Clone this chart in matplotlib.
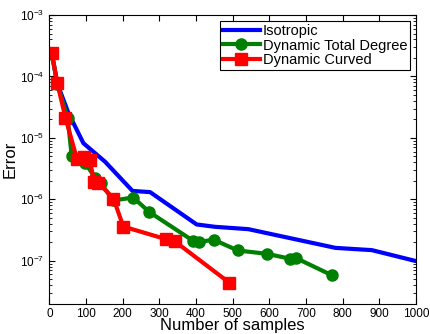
import matplotlib
matplotlib.use("Agg")
import matplotlib.pyplot as plt

plt.rcParams['font.family'] = ['Liberation Sans', 'DejaVu Sans']
plt.rcParams['mathtext.fontset'] = 'custom'
plt.rcParams['mathtext.rm'] = 'Liberation Sans'

# Isotropic
iso_n = [7, 22, 52, 93, 152, 227, 275, 402, 452, 543, 781, 880, 1000]
iso_err = [2.3e-4, 7.6e-5, 2.55e-5, 8.2e-6, 4.1e-6, 1.37e-6, 1.31e-6, 3.9e-7, 3.57e-7, 3.27e-7, 1.62e-7, 1.49e-7, 9.9e-8]

# Dynamic Total Degree
dtd_n = [7, 22, 50, 61, 97, 125, 140, 175, 229, 273, 393, 409, 449, 514, 593, 657, 674, 770]
dtd_err = [2.3e-4, 7.5e-5, 2.1e-5, 5.15e-6, 3.95e-6, 2.26e-6, 1.83e-6, 9.6e-7, 1.07e-6, 6.2e-7,
           2.1e-7, 2.03e-7, 2.2e-7, 1.47e-7, 1.3e-7, 1.08e-7, 1.1e-7, 5.85e-8]

# Dynamic Curved
dc_n = [7, 22, 44, 75, 94, 110, 123, 134, 175, 202, 318, 343, 491]
dc_err = [2.38e-4, 7.7e-5, 2.14e-5, 4.6e-6, 4.8e-6, 4.3e-6, 1.93e-6, 1.87e-6, 1.03e-6, 3.6e-7,
          2.25e-7, 2.06e-7, 4.4e-8]

fig = plt.figure(figsize=(4.3, 3.34), dpi=100)
ax = fig.add_axes([0.1147, 0.0907, 0.8523, 0.8643])

ax.semilogy(iso_n, iso_err, color='#0000ff', lw=3, label='Isotropic')
ax.semilogy(dtd_n, dtd_err, color='#008000', lw=3, marker='o', ms=8, label='Dynamic Total Degree')
ax.semilogy(dc_n, dc_err, color='#ff0000', lw=3, marker='s', ms=8, label='Dynamic Curved')

ax.set_xlim(0, 1000)
ax.set_ylim(2e-8, 1e-3)
ax.set_xticks(range(0, 1001, 100))
ax.tick_params(which='both', direction='in', top=True, right=True, labelsize=8.5)
ax.tick_params(which='major', length=4)
ax.tick_params(which='minor', length=2)
ax.tick_params(axis='x', pad=3)

ax.set_xlabel('Number of samples', fontsize=12, labelpad=-1)
ax.set_ylabel('Error', fontsize=12, labelpad=2)

leg = ax.legend(loc='upper right', fontsize=10.5, fancybox=False, framealpha=1,
                edgecolor='black', borderaxespad=0.4, handlelength=2.5,
                handletextpad=0.2, labelspacing=0.05, borderpad=0.2)
leg.get_frame().set_linewidth(0.8)

plt.savefig('out.png', dpi=100)
